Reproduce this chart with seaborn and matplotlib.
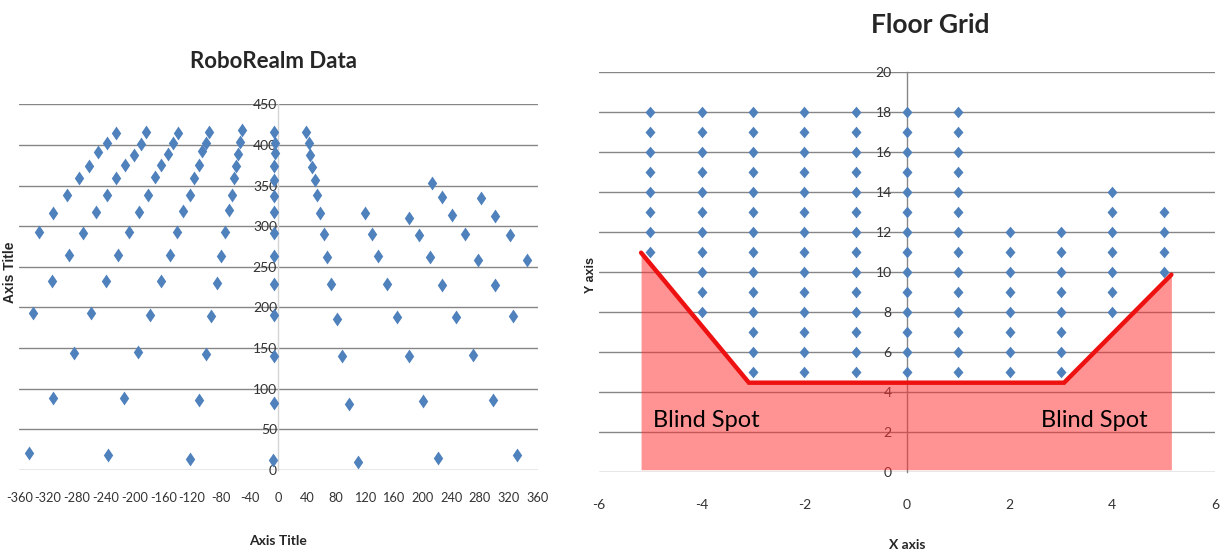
import matplotlib
matplotlib.use("Agg")
import matplotlib.pyplot as plt
import pandas as pd
import seaborn as sns

# RoboRealm readings: image x / image y of every floor sample, grouped by floor column
robo_x = [
    # column -5
    -226, -238, -250, -263, -277, -294, -313, -333,
    # column -4
    -184, -191, -201, -213, -225, -238, -254, -272, -291, -315, -341,
    # column -3
    -139, -146, -154, -163, -172, -181, -193, -207, -223, -239, -260, -284, -313, -347,
    # column -2
    -96, -101, -106, -110, -117, -123, -133, -141, -151, -163, -178, -195, -214, -237,
    # column -1
    -50, -53, -56, -59, -61, -65, -69, -74, -80, -86, -93, -101, -111, -123,
    # column 0
    -6, -5, -5, -6, -6, -6, -6, -6, -6, -6, -6, -6, -6, -8,
    # column 1
    38, 42, 44, 46, 51, 53, 58, 63, 67, 73, 81, 89, 98, 111,
    # column 2
    120, 130, 139, 151, 165, 182, 201, 222,
    # column 3
    182, 195, 210, 227, 247, 271, 298, 331,
    # column 4
    213, 227, 241, 259, 278, 301, 326,
    # column 5
    281, 301, 322, 345,
]
robo_y = [
    415, 402, 391, 374, 359, 339, 316, 293,
    416, 401, 387, 375, 359, 338, 317, 292, 264, 233, 193,
    415, 402, 389, 375, 360, 339, 317, 293, 264, 232, 193, 144, 88, 21,
    416, 402, 392, 375, 359, 339, 319, 293, 264, 232, 191, 145, 88, 18,
    418, 404, 389, 374, 359, 339, 320, 293, 263, 230, 189, 143, 86, 14,
    416, 402, 390, 374, 357, 337, 318, 292, 263, 229, 191, 140, 83, 12,
    416, 402, 388, 373, 357, 338, 316, 291, 262, 229, 186, 140, 81, 10,
    316, 290, 263, 229, 188, 140, 85, 15,
    310, 289, 262, 228, 188, 141, 86, 18,
    353, 336, 314, 290, 259, 228, 189,
    335, 312, 289, 259,
]

# Floor grid: sample columns and the first / last row sampled in each
floor_cols = [-5, -4, -3, -2, -1, 0, 1, 2, 3, 4, 5]
floor_row_lo = [11, 8, 5, 5, 5, 5, 5, 5, 5, 8, 10]
floor_row_hi = [18, 18, 18, 18, 18, 18, 18, 12, 12, 14, 13]

# Near edge of the camera view on the floor
edge_x = [-5.18, -3.08, 3.06, 5.15]
edge_y = [10.95, 4.45, 4.45, 9.85]
blind_floor = 0.1

left_xticks = list(range(-360, 361, 40))
left_yticks = list(range(0, 451, 50))
right_xticks = list(range(-6, 7, 2))
right_yticks = list(range(0, 21, 2))

BLUE = "#4F81BD"
GRID = "#868686"

robo = pd.DataFrame({"img_x": robo_x, "img_y": robo_y})
floor = pd.DataFrame(
    [(c, r) for c, lo, hi in zip(floor_cols, floor_row_lo, floor_row_hi)
     for r in range(lo, hi + 1)],
    columns=["fx", "fy"],
)
edge = pd.DataFrame({"fx": edge_x, "fy": edge_y})

sns.set_theme(style="white")
plt.rcParams["font.family"] = ["Lato", "DejaVu Sans"]
plt.rcParams["axes.unicode_minus"] = False

W, H = 1225, 554
fig = plt.figure(figsize=(W / 100, H / 100), dpi=100)


def axes_px(left, top, right, bottom):
    return fig.add_axes([left / W, 1 - bottom / H, (right - left) / W, (bottom - top) / H])


tall_diamond = [(0, 1), (0.68, 0), (0, -1), (-0.68, 0), (0, 1)]
wide_diamond = [(0, 1), (0.86, 0), (0, -1), (-0.86, 0), (0, 1)]

# ---- left: RoboRealm image coordinates ----
ax1 = axes_px(19.3, 104.3, 537.5, 470)
sns.scatterplot(data=robo, x="img_x", y="img_y", ax=ax1, marker=tall_diamond,
                s=100, color=BLUE, linewidth=0, zorder=4, clip_on=False)
ax1.set_xlim(-360, 360)
ax1.set_ylim(0, 450)
ax1.set_xticks(left_xticks)
ax1.set_yticks(left_yticks)
ax1.set_axisbelow(True)
ax1.grid(axis="y", color=GRID, lw=1.0)
ax1.grid(axis="x", visible=False)
for side in ("top", "right", "bottom"):
    ax1.spines[side].set_visible(False)
ax1.spines["left"].set_position(("data", 0))
ax1.spines["left"].set_color("#d4d4d4")
ax1.spines["left"].set_linewidth(1.0)
ax1.tick_params(axis="y", length=0, pad=1, labelsize=10, labelcolor="#333333")
ax1.tick_params(axis="x", length=0, pad=16, labelsize=9.2, labelcolor="#333333")
ax1.set_xlabel("")
ax1.set_ylabel("")

# ---- right: floor grid ----
ax2 = axes_px(599, 71.7, 1215, 471.7)
ax2.fill_between(edge["fx"], blind_floor, edge["fy"], color="#FF2E2E",
                 alpha=0.52, linewidth=0, zorder=3)
sns.scatterplot(data=floor, x="fx", y="fy", ax=ax2, marker=wide_diamond,
                s=70, color=BLUE, linewidth=0, zorder=4, clip_on=False)
sns.lineplot(data=edge, x="fx", y="fy", ax=ax2, sort=False, color="#EE1111",
             lw=3.2, zorder=5, solid_joinstyle="miter")
ax2.set_xlim(-6, 6)
ax2.set_ylim(0, 20)
ax2.set_xticks(right_xticks)
ax2.set_yticks(right_yticks)
ax2.set_axisbelow(True)
ax2.grid(axis="y", color=GRID, lw=1.0)
ax2.grid(axis="x", visible=False)
for side in ("top", "right", "bottom"):
    ax2.spines[side].set_visible(False)
ax2.spines["left"].set_position(("data", 0))
ax2.spines["left"].set_color(GRID)
ax2.spines["left"].set_linewidth(1.0)
ax2.tick_params(axis="y", length=0, pad=11, labelsize=10, labelcolor="#333333")
ax2.tick_params(axis="x", length=0, pad=20, labelsize=10, labelcolor="#333333")
ax2.set_xlabel("")
ax2.set_ylabel("")

ax2.text(-4.94, 2.55, "Blind Spot", ha="left", va="center", fontsize=17,
         color="black", zorder=6)
ax2.text(2.62, 2.55, "Blind Spot", ha="left", va="center", fontsize=17,
         color="black", zorder=6)

# ---- titles and axis titles ----
fig.text(273 / W, 1 - 61 / H, "RoboRealm Data", ha="center", va="center",
         fontsize=16, fontweight="bold")
fig.text(930 / W, 1 - 25 / H, "Floor Grid", ha="center", va="center",
         fontsize=19, fontweight="bold")
fig.text(278 / W, 1 - 541 / H, "Axis Title", ha="center", va="center",
         fontsize=10, fontweight="bold")
fig.text(10 / W, 1 - 272 / H, "Axis Title", ha="center", va="center", rotation=90,
         fontsize=10, fontweight="bold", family="Liberation Sans")
fig.text(907 / W, 1 - 545 / H, "X axis", ha="center", va="center",
         fontsize=10, fontweight="bold")
fig.text(591 / W, 1 - 275 / H, "Y axis", ha="center", va="center", rotation=90,
         fontsize=9, fontweight="bold", family="Liberation Sans")

fig.savefig("out.png", dpi=100, facecolor="white")
